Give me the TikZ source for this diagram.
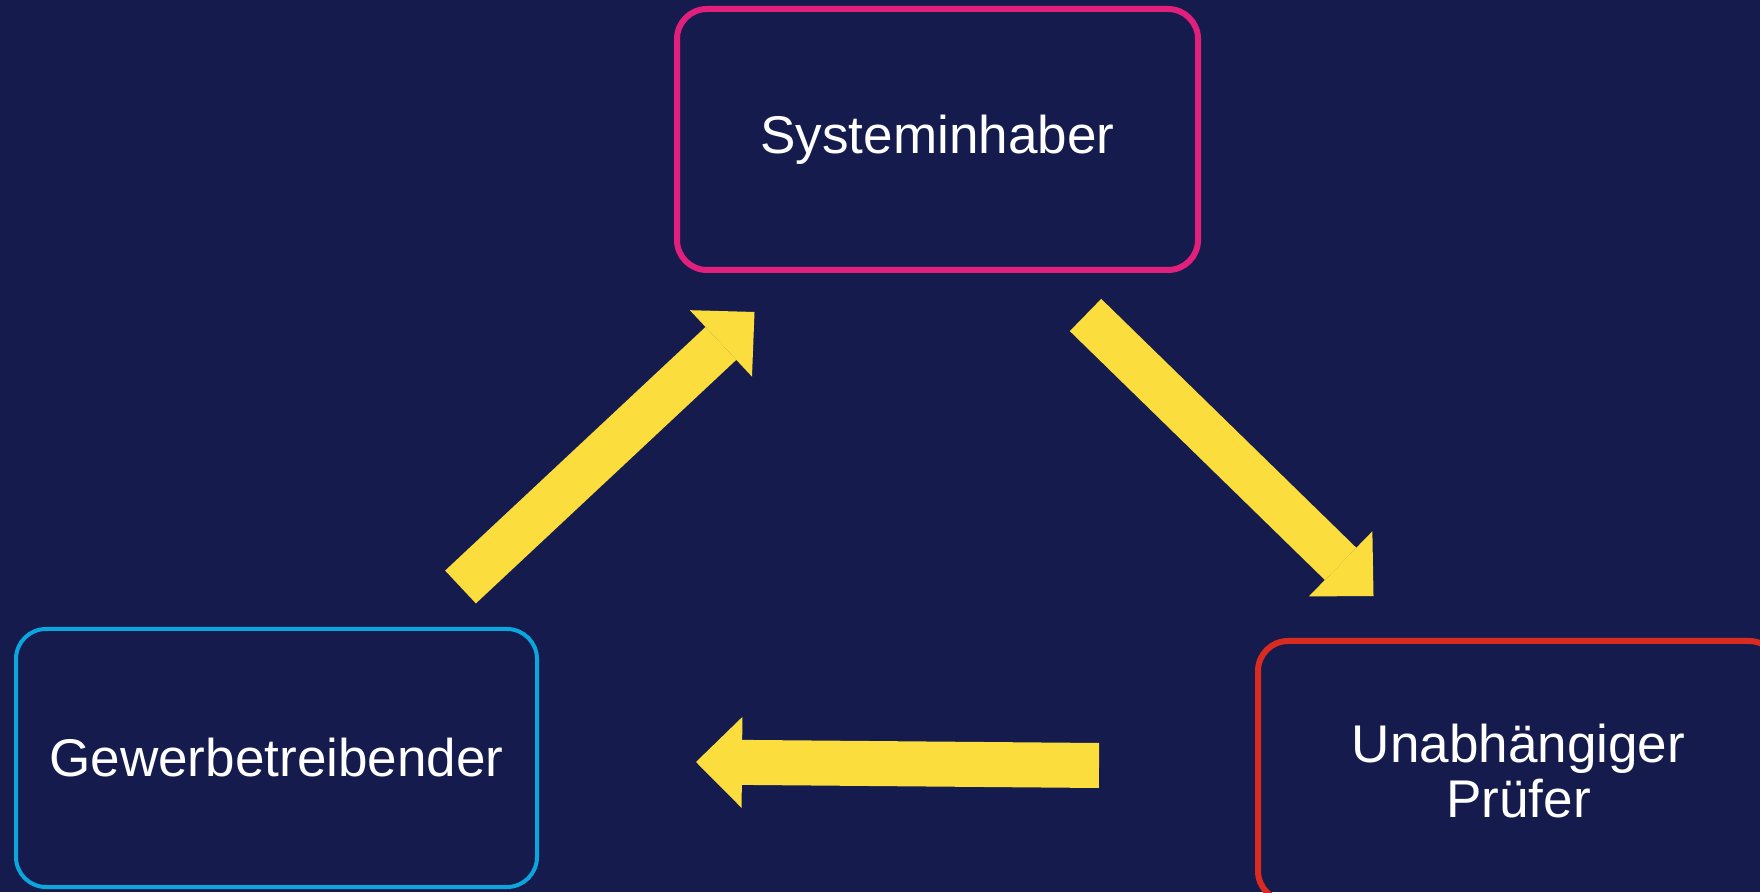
\documentclass[tikz,border=0pt]{standalone}
\usepackage{fontspec}
\setmainfont{Liberation Sans}
\usetikzlibrary{arrows.meta}
\definecolor{bgnavy}{HTML}{151C4D}
\definecolor{sysmag}{HTML}{E0207C}
\definecolor{gewblue}{HTML}{0AA6DD}
\definecolor{pruefred}{HTML}{D92B1F}
\definecolor{flowyellow}{HTML}{FBDD3E}
\begin{document}
\begin{tikzpicture}[
	box/.style={draw, rounded corners=0.6cm, text=white, align=center, inner sep=0pt,
		minimum width=10.42cm, font=\fontsize{30.2}{31.3}\selectfont},
	flow/.style={draw=flowyellow, line width=0.9cm,
		-{Triangle[length=0.92cm, width=1.82cm, line width=0pt]}}
	]
	\clip (0,0) rectangle (35.2,17.84);
	\fill[bgnavy] (0,0) rectangle (35.2,17.84);
	
	\node[box, draw=sysmag, line width=0.12cm, minimum height=5.22cm] (sys) at (18.75,15.05) {Systeminhaber};
	\node[box, draw=gewblue, line width=0.08cm, minimum height=5.16cm] (gew) at (5.53,2.68) {Gewerbetreibender};
	\node[box, draw=pruefred, line width=0.12cm, minimum height=5.2cm] (pruef) at (30.37,2.42) {Unabhängiger\\Prüfer};
	
	% Pfeile
	\coordinate (a1s) at (9.21,6.10);
	\coordinate (a1e) at (15.09,11.60);
	\coordinate (a2s) at (21.71,11.54);
	\coordinate (a2e) at (27.47,5.92);
	\coordinate (a3s) at (21.98,2.53);
	\coordinate (a3e) at (13.92,2.60);
	\draw[flow] (a1s) -- (a1e);
	\draw[flow] (a2s) -- (a2e);
	\draw[flow] (a3s) -- (a3e);
\end{tikzpicture}
\end{document}
